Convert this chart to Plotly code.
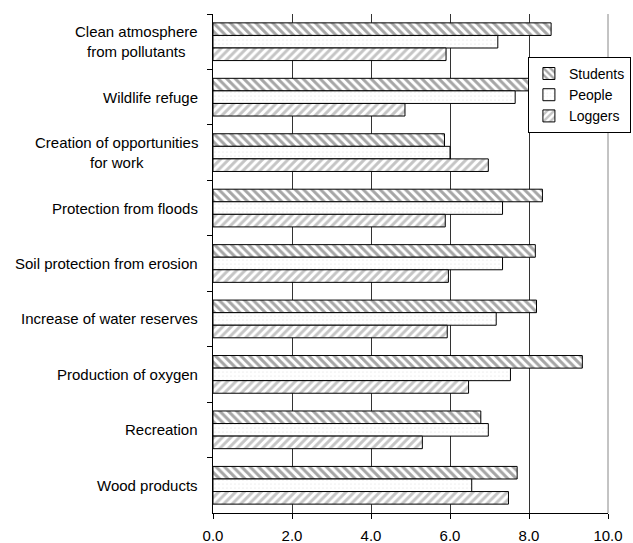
import plotly.graph_objects as go

categories = [
    "Clean atmosphere<br>from pollutants",
    "Wildlife refuge",
    "Creation of opportunities<br>for work",
    "Protection from floods",
    "Soil protection from erosion",
    "Increase of water reserves",
    "Production of oxygen",
    "Recreation",
    "Wood products",
]
students = [8.56, 8.01, 5.86, 8.34, 8.16, 8.19, 9.35, 6.78, 7.70]
people = [7.21, 7.65, 6.00, 7.33, 7.33, 7.17, 7.53, 6.97, 6.55]
loggers = [5.90, 4.86, 6.97, 5.88, 5.96, 5.93, 6.47, 5.30, 7.48]
x_ticks = [0, 2, 4, 6, 8, 10]

FONT = "Liberation Sans, Arial, sans-serif"

fig = go.Figure()
fig.add_trace(go.Bar(
    y=categories, x=students, name="Students", orientation="h",
    marker=dict(color="white", line=dict(color="black", width=1),
                pattern=dict(shape="\\", fgcolor="#4d4d4d", bgcolor="white",
                             size=6, solidity=0.5)),
))
fig.add_trace(go.Bar(
    y=categories, x=people, name="People", orientation="h",
    marker=dict(color="white", line=dict(color="black", width=1),
                pattern=dict(shape=".", fgcolor="#dddddd", bgcolor="white",
                             size=4, solidity=0.15)),
))
fig.add_trace(go.Bar(
    y=categories, x=loggers, name="Loggers", orientation="h",
    marker=dict(color="white", line=dict(color="black", width=1),
                pattern=dict(shape="/", fgcolor="#8c8c8c", bgcolor="white",
                             size=6, solidity=0.5)),
))

annotations = [
    dict(text=c, xref="paper", yref="y", x=0, y=c, xanchor="right",
         xshift=-13, align="center", showarrow=False,
         font=dict(family=FONT, size=15, color="black"))
    for c in categories
]

fig.update_layout(
    width=633, height=543,
    margin=dict(l=213, r=25, t=14, b=30, autoexpand=False),
    paper_bgcolor="white", plot_bgcolor="white",
    barmode="group", bargap=0.32, bargroupgap=0,
    font=dict(family=FONT, size=15, color="black"),
    showlegend=True,
    legend=dict(x=1.058, xanchor="right", y=0.914, yanchor="top",
                bgcolor="white", bordercolor="black", borderwidth=1,
                font=dict(family=FONT, size=14, color="black"),
                tracegroupgap=0),
    annotations=annotations,
    shapes=[dict(type="line", xref="paper", yref="paper", x0=1, x1=1,
                 y0=0, y1=1, line=dict(color="#888888", width=1),
                 layer="above")],
)
fig.update_xaxes(
    range=[0, 10], tickvals=x_ticks, tickformat=".1f",
    showgrid=True, gridcolor="#333333", gridwidth=1,
    showline=True, linecolor="black", linewidth=1,
    ticks="outside", ticklen=5, tickcolor="black",
    ticklabelstandoff=4, zeroline=False, automargin=False,
    tickfont=dict(family=FONT, size=15, color="black"),
)
fig.update_yaxes(
    autorange="reversed", showgrid=False, showticklabels=False,
    showline=True, linecolor="black", linewidth=1,
    ticks="outside", ticklen=5, tickcolor="black", tickson="boundaries",
    zeroline=False, automargin=False,
)

fig.write_html("out.html", config={"displayModeBar": False},
               post_script="document.body.style.margin='0';")
